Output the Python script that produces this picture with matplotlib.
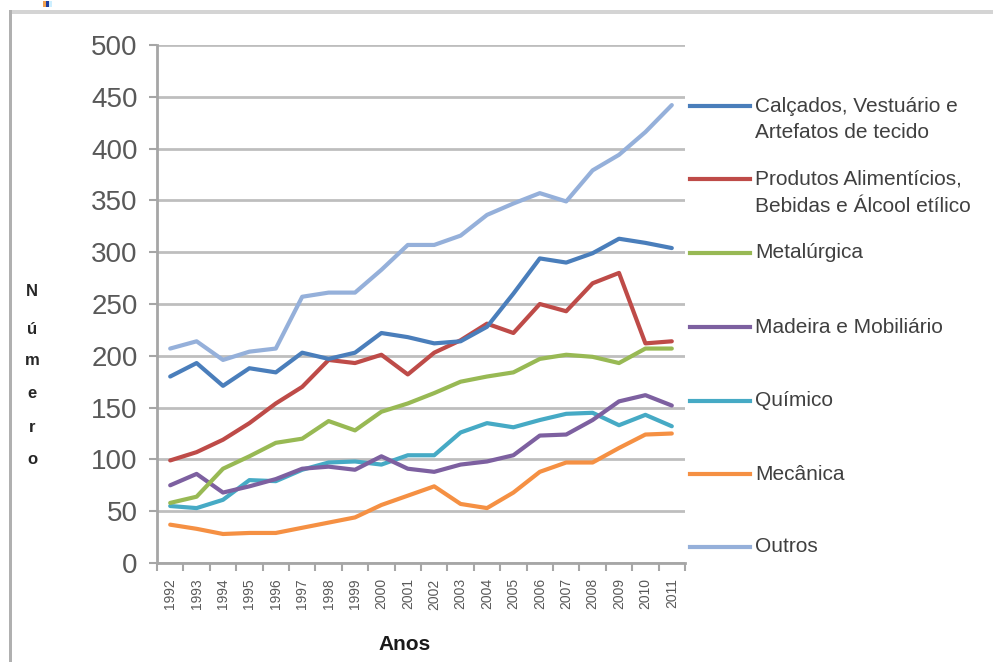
import matplotlib
matplotlib.use("Agg")
import matplotlib.pyplot as plt
from matplotlib.lines import Line2D
from matplotlib.patches import Rectangle

plt.rcParams['font.family'] = ['Liberation Sans', 'DejaVu Sans']

anos = ['1992', '1993', '1994', '1995', '1996', '1997', '1998', '1999', '2000', '2001',
        '2002', '2003', '2004', '2005', '2006', '2007', '2008', '2009', '2010', '2011']

calcados = [180, 193, 171, 188, 184, 203, 197, 203, 222, 218,
            212, 214, 228, 260, 294, 290, 299, 313, 309, 304]
alimenticios = [99, 107, 119, 135, 154, 170, 196, 193, 201, 182,
                203, 215, 231, 222, 250, 243, 270, 280, 212, 214]
metalurgica = [58, 64, 91, 103, 116, 120, 137, 128, 146, 154,
               164, 175, 180, 184, 197, 201, 199, 193, 207, 207]
madeira = [75, 86, 68, 74, 81, 91, 93, 90, 103, 91,
           88, 95, 98, 104, 123, 124, 138, 156, 162, 152]
quimico = [55, 53, 61, 80, 79, 90, 97, 98, 95, 104,
           104, 126, 135, 131, 138, 144, 145, 133, 143, 132]
mecanica = [37, 33, 28, 29, 29, 34, 39, 44, 56, 65,
            74, 57, 53, 68, 88, 97, 97, 111, 124, 125]
outros = [207, 214, 196, 204, 207, 257, 261, 261, 283, 307,
          307, 316, 336, 347, 357, 349, 379, 394, 416, 442]

rotulos = ['Calçados, Vestuário e\nArtefatos de tecido',
           'Produtos Alimentícios,\nBebidas e Álcool etílico',
           'Metalúrgica',
           'Madeira e Mobiliário',
           'Químico',
           'Mecânica',
           'Outros']
series = [calcados, alimenticios, metalurgica, madeira, quimico, mecanica, outros]
cores = ['#4A7EBB', '#BE4B48', '#98B954', '#7D60A0', '#46AAC5', '#F59043', '#95B0DA']

fig = plt.figure(figsize=(9.93, 6.62), dpi=100)
W, H = 993, 662

ax = fig.add_axes([157 / W, 1 - 563 / H, (685 - 157) / W, (563 - 45) / H])

x = list(range(len(anos)))
# draw from back to front so the first series sits on top
for valores, cor in reversed(list(zip(series, cores))):
    ax.plot(x, valores, color=cor, lw=3.0, solid_joinstyle='round', solid_capstyle='round')

ax.set_xlim(-0.5, len(anos) - 0.5)
ax.set_ylim(0, 500)
ax.set_yticks(range(0, 501, 50))
ax.yaxis.grid(True, color='#BEBEBE', lw=2.0)
ax.set_axisbelow(True)

ax.set_xticks(x)
ax.set_xticklabels(anos, rotation=90, fontsize=10, color='#595959', va='top')
ax.set_xticks([i - 0.5 for i in range(len(anos) + 1)], minor=True)
ax.tick_params(axis='x', which='major', length=0, pad=11)
ax.tick_params(axis='x', which='minor', length=6, width=1.5, color='#A6A6A6')
ax.tick_params(axis='y', length=6, width=1.5, color='#A6A6A6', labelsize=20,
               labelcolor='#595959', pad=8)

for lado in ['top', 'right']:
    ax.spines[lado].set_visible(False)
for lado in ['left', 'bottom']:
    ax.spines[lado].set_color('#A6A6A6')
    ax.spines[lado].set_linewidth(2.0)

fig.text(405 / W, 1 - 645 / H, 'Anos', ha='center', va='center',
         fontsize=15, fontweight='bold', color='#1a1a1a')

# vertical stacked axis title
letras = ['N', 'ú', 'm', 'e', 'r', 'o']
ys = [292, 329, 361, 393, 427, 459]
for letra, yp in zip(letras, ys):
    fig.text(32 / W, 1 - yp / H, letra, ha='center', va='center',
             fontsize=12, fontweight='bold', color='#262626')

# legend drawn alongside the plot
leg_y = [106, 179, 253, 327, 401, 474, 547]
for rot, cor, yp in zip(rotulos, cores, leg_y):
    fig.add_artist(Line2D([690 / W, 750 / W], [1 - yp / H, 1 - yp / H],
                          color=cor, lw=3.0, transform=fig.transFigure))
    for k, linha in enumerate(rot.split('\n')):
        fig.text(755 / W, 1 - (yp + 27 * k) / H, linha, ha='left', va='center',
                 fontsize=15, color='#404040')

# frame edges
fig.add_artist(Rectangle((9 / W, 1 - 14 / H), 1 - 9 / W, 4 / H, transform=fig.transFigure,
                         facecolor='#D4D4D4', edgecolor='none'))
fig.add_artist(Rectangle((9 / W, 0), 2.5 / W, 1 - 10 / H, transform=fig.transFigure,
                         facecolor='#B0B0B0', edgecolor='none'))
for x0, c in [(43, '#F0A050'), (46, '#1F3F9F'), (49, '#CDEFFF')]:
    fig.add_artist(Rectangle((x0 / W, 1 - 7 / H), 3 / W, 6 / H, transform=fig.transFigure,
                             facecolor=c, edgecolor='none'))

fig.savefig('out.png', dpi=100)
